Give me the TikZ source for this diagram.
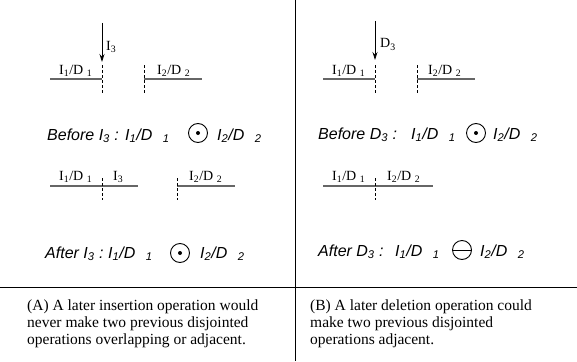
\documentclass[tikz,border=0pt]{standalone}
\usepackage{fontspec}
\setmainfont{Liberation Serif}
\setsansfont{Liberation Sans}
\usetikzlibrary{arrows.meta}
\newcommand{\pairlab}[1]{I\textsubscript{#1}/D\ \textsubscript{#1}}
\newcommand{\pairrel}[1]{I\textsubscript{#1}/D\hspace{0.65em}\textsubscript{#1}}

\begin{document}
\begin{tikzpicture}[x=1pt,y=-1pt,
    seg/.style={line width=1.3pt,black!60},
    cut/.style={densely dashed,line width=0.7pt},
    opline/.style={-{Stealth[length=8pt,width=5pt]},line width=0.8pt},
    lbl/.style={inner sep=0pt,anchor=base west,font=\fontsize{14}{14}\selectfont},
    rel/.style={inner sep=0pt,anchor=base west,font=\sffamily\itshape\fontsize{16}{16}\selectfont},
    opcirc/.style={circle,draw,line width=0.9pt,minimum size=19pt,inner sep=0pt},
    note/.style={inner sep=0pt,anchor=north west,align=left,font=\fontsize{15.5}{17}\selectfont} ]
    \useasboundingbox (0,0) rectangle (577,361);
    % frame
    \coordinate (ftop) at (295,0);
    \coordinate (fbot) at (295,361);
    \coordinate (fl) at (0,287);
    \coordinate (fr) at (577,287);
    \draw [-] (ftop) to (fbot);
    \draw [-] (fl) to (fr);
    % (A) insertion, before
    \coordinate (a1) at (50,79);
    \coordinate (a2) at (102,79);
    \coordinate (a3) at (144,79);
    \coordinate (a4) at (202,79);
    \draw [seg] (a1) to (a2);
    \draw [seg] (a3) to (a4);
    \coordinate (ac1) at (102,65);
    \coordinate (ac2) at (102,94);
    \coordinate (ac3) at (144,65);
    \coordinate (ac4) at (144,94);
    \draw [cut] (ac1) to (ac2);
    \draw [cut] (ac3) to (ac4);
    \coordinate (ins) at (102,23);
    \coordinate (ine) at (102,62);
    \draw [opline] (ins) to (ine);
    \node at (106,50) [lbl] (I3a) {I\textsubscript{3}};
    \node at (59,74) [lbl] (A1) {\pairlab{1}};
    \node at (157,74) [lbl] (A2) {\pairlab{2}};
    \node at (47,140) [rel] (bfA) {Before I\textsubscript{3} :};
    \node at (125,140) [rel] (bfA1) {\pairrel{1}};
    \node at (198,133) [opcirc] (opA1) {};
    \fill (opA1.center) circle (2pt);
    \node at (217,140) [rel] (bfA2) {\pairrel{2}};
    % (A) insertion, after
    \coordinate (b1) at (50,186);
    \coordinate (b2) at (138,186);
    \coordinate (b3) at (177,186);
    \coordinate (b4) at (235,186);
    \draw [seg] (b1) to (b2);
    \draw [seg] (b3) to (b4);
    \coordinate (bc1) at (102,178);
    \coordinate (bc2) at (102,200);
    \coordinate (bc3) at (177,178);
    \coordinate (bc4) at (177,200);
    \draw [cut] (bc1) to (bc2);
    \draw [cut] (bc3) to (bc4);
    \node at (59,180) [lbl] (B1) {\pairlab{1}};
    \node at (113,180) [lbl] (I3b) {I\textsubscript{3}};
    \node at (189,180) [lbl] (B2) {\pairlab{2}};
    \node at (45,258) [rel] (afA) {After I\textsubscript{3} :};
    \node at (108,258) [rel] (afA1) {\pairrel{1}};
    \node at (180,253) [opcirc] (opA2) {};
    \fill (opA2.center) circle (2pt);
    \node at (200,258) [rel] (afA2) {\pairrel{2}};
    % (B) deletion, before
    \coordinate (c1) at (323,79);
    \coordinate (c2) at (375,79);
    \coordinate (c3) at (417,79);
    \coordinate (c4) at (475,79);
    \draw [seg] (c1) to (c2);
    \draw [seg] (c3) to (c4);
    \coordinate (cc1) at (375,65);
    \coordinate (cc2) at (375,94);
    \coordinate (cc3) at (417,65);
    \coordinate (cc4) at (417,94);
    \draw [cut] (cc1) to (cc2);
    \draw [cut] (cc3) to (cc4);
    \coordinate (dels) at (375,21);
    \coordinate (dele) at (375,60);
    \draw [opline] (dels) to (dele);
    \node at (380,48) [lbl] (D3a) {D\textsubscript{3}};
    \node at (332,74) [lbl] (C1) {\pairlab{1}};
    \node at (428,74) [lbl] (C2) {\pairlab{2}};
    \node at (318,139) [rel] (bfB) {Before D\textsubscript{3} :};
    \node at (411,139) [rel] (bfB1) {\pairrel{1}};
    \node at (476,133) [opcirc] (opB1) {};
    \fill (opB1.center) circle (2pt);
    \node at (493,139) [rel] (bfB2) {\pairrel{2}};
    % (B) deletion, after
    \coordinate (d1) at (323,186);
    \coordinate (d2) at (433,186);
    \draw [seg] (d1) to (d2);
    \coordinate (dc1) at (375,178);
    \coordinate (dc2) at (375,200);
    \draw [cut] (dc1) to (dc2);
    \node at (332,180) [lbl] (D1) {\pairlab{1}};
    \node at (387,180) [lbl] (D2) {\pairlab{2}};
    \node at (318,256) [rel] (afB) {After D\textsubscript{3} :};
    \node at (395,256) [rel] (afB1) {\pairrel{1}};
    \node at (462,250) [opcirc] (opB2) {};
    \draw [line width=0.9pt] (opB2.west) to (opB2.east);
    \node at (480,256) [rel] (afB2) {\pairrel{2}};
    % captions
    \node at (27,300) [note] (capA) {(A) A later insertion operation would\\never make two previous disjointed\\operations overlapping or adjacent.};
    \node at (310,300) [note] (capB) {(B) A later deletion operation could\\make two previous disjointed\\operations adjacent.};
\end{tikzpicture}
\end{document}
